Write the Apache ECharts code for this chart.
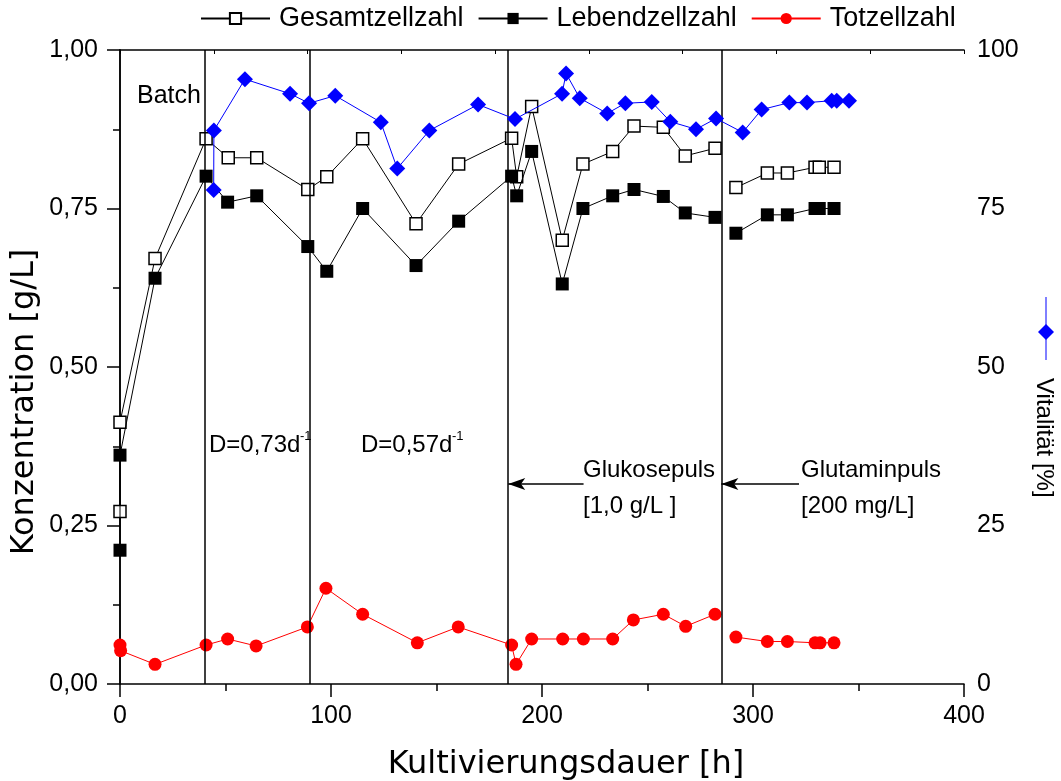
<!DOCTYPE html>
<html><head><meta charset="utf-8">
<script src="https://cdn.jsdelivr.net/npm/echarts@6/dist/echarts.min.js"></script>
<style>html,body{margin:0;padding:0;background:#fff}#c{width:1061px;height:781px}</style>
</head><body><div id="c"></div>
<script>
// ---- data (hours, g/L or %) ----
const seriesNames = ['Gesamtzellzahl', 'Lebendzellzahl', 'Totzellzahl', 'Vitalität'];
const gesamt = [[0,0.272],[0,0.413],[16.6,0.671],[40.8,0.860],[51.3,0.830],[64.8,0.830],[89.0,0.780],[98.0,0.800],[115.0,0.860],[140.3,0.726],[160.5,0.820],[185.6,0.861],[188.0,0.800],[195.1,0.911],[209.6,0.700],[219.4,0.820],[233.5,0.840],[243.6,0.880],[257.5,0.878],[267.9,0.833],[282.0,0.845],'-',[291.9,0.783],[306.8,0.806],[316.3,0.806],[329.4,0.815],[331.4,0.815],[338.4,0.815]];
const lebend = [[0,0.211],[0,0.361],[16.6,0.640],[40.8,0.801],[51.0,0.760],[64.8,0.770],[89.0,0.690],[98.0,0.651],[115.0,0.750],[140.3,0.660],[160.5,0.730],[185.6,0.801],[188.0,0.770],[195.1,0.840],[209.6,0.631],[219.4,0.750],[233.5,0.770],[243.6,0.780],[257.5,0.769],[267.9,0.743],[282.0,0.736],'-',[291.9,0.711],[306.8,0.740],[316.3,0.740],[329.4,0.750],[331.4,0.750],[338.4,0.750]];
const tot = [[0,0.0615],[0.3,0.0525],[16.6,0.031],[40.8,0.0615],[51.0,0.071],[64.5,0.060],[88.8,0.090],[97.6,0.151],[115.0,0.110],[140.9,0.065],[160.3,0.090],[185.6,0.0615],[187.7,0.031],[195.1,0.071],[209.8,0.071],[219.6,0.071],[233.5,0.071],[243.3,0.101],[257.5,0.110],[268.1,0.091],[282.0,0.110],'-',[291.9,0.074],[306.8,0.067],[316.3,0.067],[329.4,0.065],[331.8,0.065],[338.4,0.065]];
const vital = [[44.4,77.9],[44.5,87.3],[59.2,95.4],[80.6,93.1],[89.6,91.6],[102.0,92.8],[123.6,88.6],[131.4,81.3],[146.6,87.3],[169.7,91.4],[187.2,89.1],[209.5,93.1],[211.4,96.3],[217.9,92.4],[230.9,90.0],[239.5,91.6],[252.0,91.8],[260.8,88.7],[273.0,87.5],[282.5,89.2],[295.1,87.0],[304.1,90.6],[317.2,91.7],[325.6,91.7],[337.3,92.0],[339.7,92.0],[345.5,92.0]];
const phaseLines = [40.3, 89.7, 184, 285];           // h
const pulseArrows = [[219.7, 184, 0.3155], [321.8, 285, 0.3155]]; // from h, to h, at g/L
const xRange = [0, 400, 100];
const yLeftRange = [0, 1, 0.25];
const yRightRange = [0, 100, 25];

const FT = '"Liberation Sans", Arial, sans-serif';
const FB = '"DejaVu Sans", sans-serif';
const chart = echarts.init(document.getElementById('c'));

const markLineData = phaseLines.map(v => ({ xAxis: v }));
pulseArrows.forEach(a => markLineData.push([
  { coord: [a[0], a[2]], symbol: 'none' },
  { coord: [a[1], a[2]], symbol: 'arrow', symbolSize: [9, 17] }
]));

function txt(x, y, text, size, font, opts) {
  return Object.assign({
    type: 'text', x: x, y: y, silent: true,
    style: Object.assign({ x: 0, y: 0, text: text, font: size + 'px ' + font, fill: '#000',
      textAlign: 'left', align: 'left', textVerticalAlign: 'middle', verticalAlign: 'middle' }, (opts && opts.style) || {})
  }, (opts && opts.el) || {});
}

const option = {
  animation: false,
  backgroundColor: '#fff',
  grid: { left: 120, right: 97, top: 50, bottom: 97, containLabel: false },
  legend: {
    data: seriesNames.slice(0, 3),
    left: 200, top: 5, padding: 0, itemWidth: 69, itemHeight: 14, itemGap: 14,
    textStyle: { fontSize: 27, fontFamily: FT, color: '#000', padding: [0, 0, 0, 4] },
    selectedMode: false
  },
  xAxis: [{
    type: 'value', min: xRange[0], max: xRange[1], interval: xRange[2],
    axisLine: { show: true, lineStyle: { color: '#000', width: 1.5 } },
    axisTick: { show: true, inside: false, length: 13, lineStyle: { color: '#000', width: 1.5 } },
    minorTick: { show: true, splitNumber: 2, length: 7, lineStyle: { color: '#000', width: 1.5 } },
    axisLabel: { fontSize: 25, fontFamily: FT, color: '#000', margin: 20 },
    splitLine: { show: false }
  }, {
    type: 'value', position: 'top', min: 0, max: 9, interval: 1,
    axisLine: { show: true, onZero: false, lineStyle: { color: '#000', width: 1.5 } },
    axisTick: { show: true, inside: true, length: 4, lineStyle: { color: '#000', width: 1 } },
    axisLabel: { show: false }, splitLine: { show: false }
  }],
  yAxis: [{
    type: 'value', min: yLeftRange[0], max: yLeftRange[1], interval: yLeftRange[2],
    axisLine: { show: true, lineStyle: { color: '#000', width: 1.5 } },
    axisTick: { show: true, inside: false, length: 13, lineStyle: { color: '#000', width: 1.5 } },
    minorTick: { show: true, splitNumber: 2, length: 7, lineStyle: { color: '#000', width: 1.5 } },
    axisLabel: { fontSize: 25, fontFamily: FT, color: '#000', margin: 22,
      formatter: v => v.toFixed(2).replace('.', ',') },
    splitLine: { show: false }
  }, {
    type: 'value', position: 'right', min: yRightRange[0], max: yRightRange[1], interval: yRightRange[2],
    axisLine: { show: true, lineStyle: { color: '#000', width: 1.5 } },
    axisTick: { show: true, inside: true, length: 11, lineStyle: { color: '#000', width: 1.5 } },
    minorTick: { show: true, splitNumber: 2, length: 6, lineStyle: { color: '#000', width: 1.5 } },
    axisLabel: { fontSize: 25, fontFamily: FT, color: '#000', margin: 13, align: 'left' },
    splitLine: { show: false }
  }],
  series: [{
    name: seriesNames[0], type: 'line', xAxisIndex: 0, yAxisIndex: 0, data: gesamt,
    symbol: 'rect', symbolSize: 12, showSymbol: true, connectNulls: false,
    lineStyle: { color: '#000', width: 1 },
    itemStyle: { color: '#fff', borderColor: '#000', borderWidth: 1.5 },
    z: 3,
    markLine: {
      silent: true, symbol: 'none', animation: false,
      label: { show: false },
      lineStyle: { color: '#000', width: 1.5, type: 'solid' },
      data: markLineData
    }
  }, {
    name: seriesNames[1], type: 'line', xAxisIndex: 0, yAxisIndex: 0, data: lebend,
    symbol: 'rect', symbolSize: 13, connectNulls: false,
    lineStyle: { color: '#000', width: 1 },
    itemStyle: { color: '#000', borderColor: '#000', borderWidth: 0 },
    z: 4
  }, {
    name: seriesNames[2], type: 'line', xAxisIndex: 0, yAxisIndex: 0, data: tot,
    symbol: 'circle', symbolSize: 13, connectNulls: false,
    lineStyle: { color: '#ff0000', width: 1 },
    itemStyle: { color: '#ff0000', borderWidth: 0 },
    z: 4
  }, {
    name: seriesNames[3], type: 'line', xAxisIndex: 0, yAxisIndex: 1, data: vital,
    symbol: 'diamond', symbolSize: 16,
    lineStyle: { color: '#0000ff', width: 1 },
    itemStyle: { color: '#0000ff', borderWidth: 0 },
    z: 5
  }],
  graphic: [
    txt(566, 765, 'Kultivierungsdauer [h]', 32, FB, { style: { textAlign: 'center', align: 'center' } }),
    txt(25, 402, 'Konzentration [g/L]', 32, FB, { style: { textAlign: 'center', align: 'center' }, el: { rotation: Math.PI / 2 } }),
    { type: 'text', x: 1044, y: 378, silent: true, rotation: -Math.PI / 2,
      style: { x: 0, y: 0, text: 'Vitalität [%]', font: '24px ' + FT, fill: '#000',
        textAlign: 'left', align: 'left', textVerticalAlign: 'middle', verticalAlign: 'middle' } },
    { type: 'line', silent: true, shape: { x1: 1046, y1: 297, x2: 1046, y2: 360 }, style: { stroke: '#0000ff', lineWidth: 1 } },
    { type: 'polygon', silent: true, shape: { points: [[1046, 324], [1054, 332], [1046, 340], [1038, 332]] }, style: { fill: '#0000ff' } },
    txt(137, 96, 'Batch', 25, FT),
    txt(209, 445, 'D=0,73d', 24, FT),
    txt(300, 436, '-1', 13, FT),
    txt(361, 445, 'D=0,57d', 24, FT),
    txt(452, 436, '-1', 13, FT),
    txt(583, 470, 'Glukosepuls', 24, FT),
    txt(583, 506, '[1,0 g/L ]', 24, FT),
    txt(801, 470, 'Glutaminpuls', 24, FT),
    txt(801, 506, '[200 mg/L]', 24, FT)
  ]
};
chart.setOption(option);
</script>
</body></html>
